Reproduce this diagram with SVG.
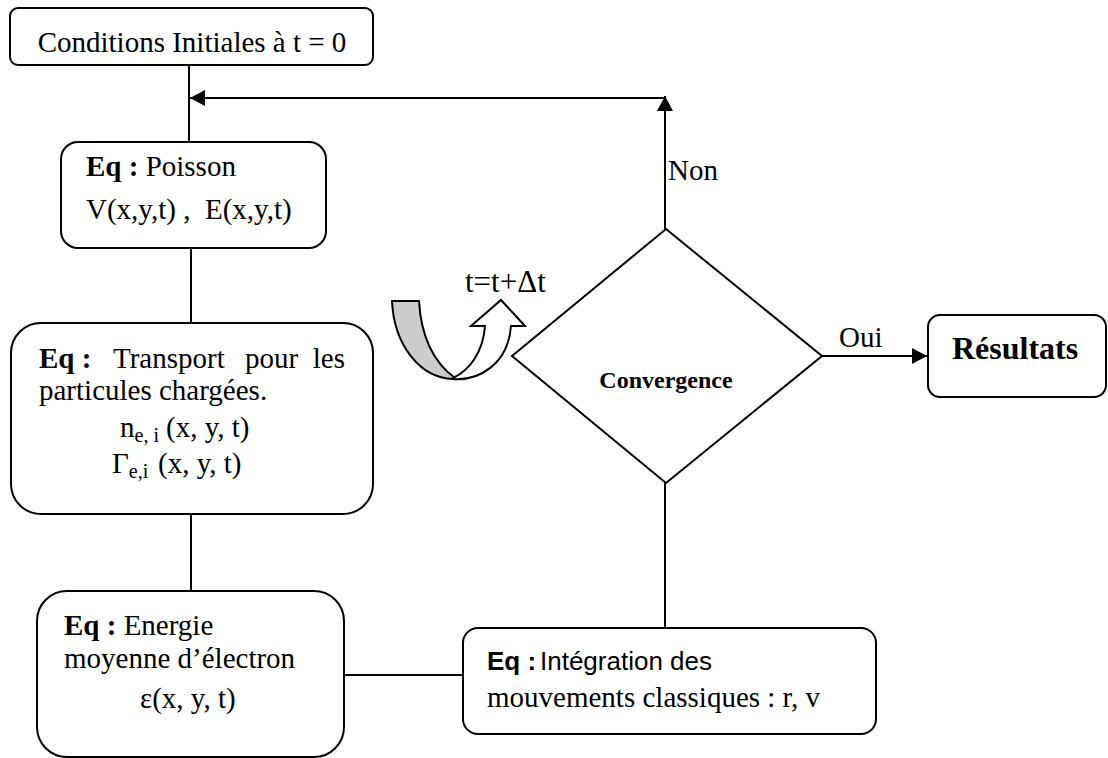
<svg xmlns="http://www.w3.org/2000/svg" width="1108" height="758" viewBox="0 0 1108 758">
  <style>
    .box { fill: #ffffff; stroke: #000000; stroke-width: 2; }
    .edge { fill: none; stroke: #000000; stroke-width: 2; }
    .t { font-family: "Liberation Serif", "Times New Roman", serif; font-size: 29px; fill: #000000; }
    .b { font-weight: bold; }
    .sans { font-family: "Liberation Sans", Arial, sans-serif; font-size: 26px; }
    .sub { font-size: 20px; }
  </style>
  <defs>
    <marker id="arrow" viewBox="0 0 15 16" refX="15" refY="8" markerWidth="15" markerHeight="16" markerUnits="userSpaceOnUse" orient="auto">
      <path d="M0,0 L15,8 L0,16 Z" fill="#000000"/>
    </marker>
  </defs>

  <!-- connectors -->
  <g id="connectors">
    <path class="edge" d="M189,65 V142"/>
    <path class="edge" d="M191,248 V323"/>
    <path class="edge" d="M191,514 V591"/>
    <path class="edge" d="M344,675 H463"/>
    <path class="edge" d="M665,483 V628"/>
    <path class="edge" d="M665,229 V96" marker-end="url(#arrow)"/>
    <path class="edge" d="M665,98 H190" marker-end="url(#arrow)"/>
    <path class="edge" d="M822,356 H927" marker-end="url(#arrow)"/>
    <text class="t" x="668" y="180">Non</text>
    <text class="t" x="839" y="347">Oui</text>
  </g>

  <!-- start -->
  <g id="node-init">
    <rect class="box" x="10" y="8" width="363" height="57" rx="8"/>
    <text class="t" x="192" y="52" text-anchor="middle">Conditions Initiales à t = 0</text>
  </g>

  <!-- Poisson -->
  <g id="node-poisson">
    <rect class="box" x="61" y="142" width="265" height="106" rx="17"/>
    <text class="t" x="86" y="176"><tspan class="b">Eq :</tspan> Poisson</text>
    <text class="t" x="86" y="219" xml:space="preserve">V(x,y,t) ,  E(x,y,t)</text>
  </g>

  <!-- transport (first line justified word by word) -->
  <g id="node-transport">
    <rect class="box" x="11" y="323" width="362" height="191" rx="30"/>
    <text class="t b" x="39" y="368">Eq :</text>
    <text class="t" x="113" y="368">Transport</text>
    <text class="t" x="245" y="368">pour</text>
    <text class="t" x="345" y="368" text-anchor="end">les</text>
    <text class="t" x="39" y="400">particules chargées.</text>
    <text class="t" x="120" y="437">n<tspan class="sub" dy="5">e, i</tspan><tspan dy="-5" x="166">(x, y, t)</tspan></text>
    <text class="t" x="112" y="473">Γ<tspan class="sub" dy="5">e,i</tspan><tspan dy="-5" x="158">(x, y, t)</tspan></text>
  </g>

  <!-- energy -->
  <g id="node-energie">
    <rect class="box" x="37" y="591" width="307" height="166" rx="30"/>
    <text class="t" x="64" y="635"><tspan class="b">Eq :</tspan> Energie</text>
    <text class="t" x="64" y="668">moyenne d’électron</text>
    <text class="t" x="140" y="708">ε(x, y, t)</text>
  </g>

  <!-- integration -->
  <g id="node-integration">
    <rect class="box" x="463" y="628" width="413" height="106" rx="15"/>
    <text class="sans b" x="487" y="670">Eq :</text>
    <text class="sans" x="540" y="670">Intégration des</text>
    <text class="t" x="487" y="707">mouvements classiques : r, v</text>
  </g>

  <!-- decision -->
  <g id="node-convergence">
    <polygon class="box" points="666,229 822,356 666,483 512,356"/>
    <text class="t b" x="666" y="388" style="font-size:24px" text-anchor="middle">Convergence</text>
  </g>

  <!-- results -->
  <g id="node-resultats">
    <rect class="box" x="928" y="315" width="178" height="82" rx="12"/>
    <text class="t b" x="952" y="359" style="font-size:32px">Résultats</text>
  </g>

  <!-- time step -->
  <g id="node-timestep">
    <path d="M453,379 C420,378 394,345 392,301 L419,301 C421,335 433,362 455,378 Z" fill="#cccccc" stroke="#000000" stroke-width="2" stroke-linejoin="round"/>
    <path d="M453,379 C478,381 508,365 511,326 L525,326 L501,300 L471,326 L485,326 C483,352 470,370 453,378 Z" fill="#ffffff" stroke="#000000" stroke-width="2" stroke-linejoin="miter"/>
    <text class="t" x="465" y="292" style="font-size:31px">t=t+Δt</text>
  </g>
</svg>
